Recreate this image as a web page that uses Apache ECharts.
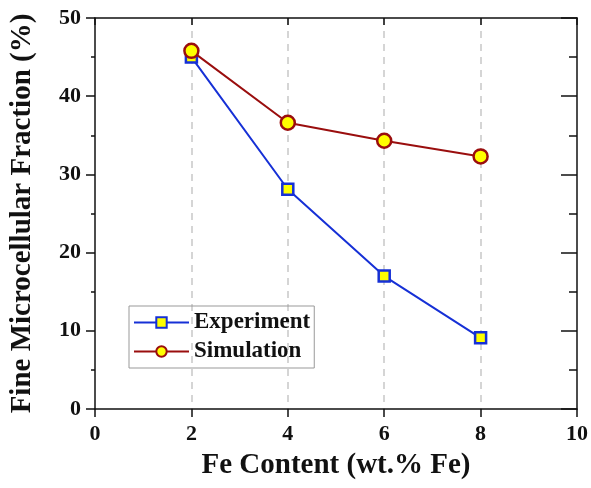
<!DOCTYPE html>
<html>
<head>
<meta charset="utf-8">
<script src="https://cdn.jsdelivr.net/npm/echarts@6/dist/echarts.min.js"></script>
<style>html,body{margin:0;padding:0;background:#fff}#c{width:591px;height:488px}</style>
</head>
<body>
<div id="c"></div>
<script>
// Fe content (wt.%) and the fine microcellular fraction (%)
var feContent = [2, 4, 6, 8];
var experiment = [45.0, 28.1, 17.0, 9.1];
var simulation = [45.8, 36.6, 34.3, 32.3];
var xTicks = [0, 2, 4, 6, 8, 10];
var yTicks = [0, 10, 20, 30, 40, 50];

var font = 'Liberation Serif, Times New Roman, serif';
var ink = '#111';
var axisBlack = {onZero: false, lineStyle: {color: ink, width: 1.5}};

function pairs(xs, ys) { return xs.map(function (x, i) { return [x, ys[i]]; }); }

var chart = echarts.init(document.getElementById('c'), null, {renderer: 'canvas'});
chart.setOption({
  animation: false,
  backgroundColor: '#fff',
  grid: {left: 94, right: 13, top: 18, bottom: 79, containLabel: false},
  legend: {
    left: 129, top: 306,
    orient: 'vertical',
    data: ['Experiment', 'Simulation'],
    itemWidth: 55, itemHeight: 13, itemGap: 6,
    padding: [5, 4, 5, 4],
    borderColor: '#999', borderWidth: 1,
    textStyle: {fontFamily: font, fontWeight: 'bold', fontSize: 23, color: ink}
  },
  xAxis: [{
    type: 'value', position: 'bottom', min: xTicks[0], max: xTicks[xTicks.length - 1], interval: 2,
    name: 'Fe Content (wt.% Fe)', nameLocation: 'middle', nameGap: 42,
    nameTextStyle: {fontFamily: font, fontWeight: 'bold', fontSize: 29, color: ink},
    axisLine: axisBlack,
    axisTick: {show: true, inside: false, length: 8, lineStyle: {color: ink, width: 1.5}},
    axisLabel: {fontFamily: font, fontWeight: 'bold', fontSize: 22, color: ink, margin: 14},
    splitLine: {show: true, lineStyle: {color: '#c8c8c8', type: [7, 6], width: 1.5}, showMinLine: false, showMaxLine: false}
  }, {
    type: 'value', position: 'top', min: xTicks[0], max: xTicks[xTicks.length - 1], interval: 2,
    axisLine: axisBlack,
    axisTick: {show: true, inside: true, length: 7, lineStyle: {color: ink, width: 1.5}},
    axisLabel: {show: false}, splitLine: {show: false}
  }],
  yAxis: [{
    type: 'value', position: 'left', min: yTicks[0], max: yTicks[yTicks.length - 1], interval: 10,
    name: 'Fine Microcellular Fraction (%)', nameLocation: 'middle', nameGap: 58,
    nameTextStyle: {fontFamily: font, fontWeight: 'bold', fontSize: 29, color: ink},
    axisLine: axisBlack,
    axisTick: {show: true, inside: false, length: 9, lineStyle: {color: ink, width: 1.5}},
    minorTick: {show: true, splitNumber: 2, length: 4, lineStyle: {color: ink, width: 1.5}},
    axisLabel: {fontFamily: font, fontWeight: 'bold', fontSize: 22, color: ink, margin: 14},
    splitLine: {show: false}
  }, {
    type: 'value', position: 'right', min: yTicks[0], max: yTicks[yTicks.length - 1], interval: 10,
    axisLine: axisBlack,
    axisTick: {show: true, inside: true, length: 16, lineStyle: {color: ink, width: 1.5}},
    minorTick: {show: true, splitNumber: 2, length: 8, lineStyle: {color: ink, width: 1.5}},
    axisLabel: {show: false}, splitLine: {show: false}
  }],
  series: [{
    name: 'Experiment', type: 'line', data: pairs(feContent, experiment),
    symbol: 'rect', symbolSize: 11,
    lineStyle: {color: '#1630d6', width: 2},
    itemStyle: {color: '#ffff00', borderColor: '#1630d6', borderWidth: 2.5},
    z: 3
  }, {
    name: 'Simulation', type: 'line', data: pairs(feContent, simulation),
    symbol: 'circle', symbolSize: 14,
    lineStyle: {color: '#9a0e0e', width: 2},
    itemStyle: {color: '#ffff00', borderColor: '#9a0e0e', borderWidth: 2.5},
    z: 4
  }]
});
</script>
</body>
</html>
